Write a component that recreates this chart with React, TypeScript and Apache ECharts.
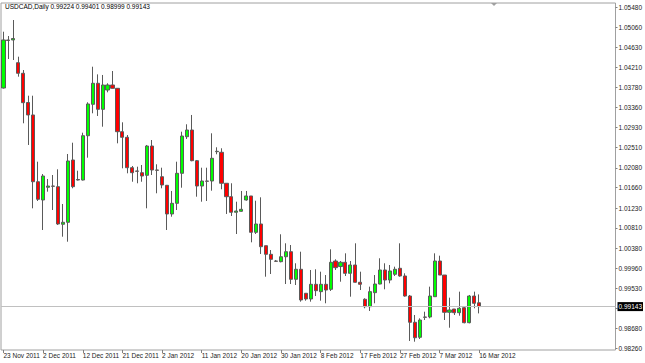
import { useEffect, useRef } from 'react';
import * as echarts from 'echarts';

const symbolName = 'USDCAD,Daily';

const dates = [
  '23 Nov 2011', '24 Nov 2011', '25 Nov 2011', '27 Nov 2011', '28 Nov 2011', '29 Nov 2011', '30 Nov 2011', '1 Dec 2011',
  '2 Dec 2011', '4 Dec 2011', '5 Dec 2011', '6 Dec 2011', '7 Dec 2011', '8 Dec 2011', '9 Dec 2011', '11 Dec 2011',
  '12 Dec 2011', '13 Dec 2011', '14 Dec 2011', '15 Dec 2011', '16 Dec 2011', '18 Dec 2011', '19 Dec 2011', '20 Dec 2011',
  '21 Dec 2011', '22 Dec 2011', '23 Dec 2011', '26 Dec 2011', '27 Dec 2011', '28 Dec 2011', '29 Dec 2011', '30 Dec 2011',
  '2 Jan 2012', '3 Jan 2012', '4 Jan 2012', '5 Jan 2012', '6 Jan 2012', '8 Jan 2012', '9 Jan 2012', '10 Jan 2012',
  '11 Jan 2012', '12 Jan 2012', '13 Jan 2012', '15 Jan 2012', '16 Jan 2012', '17 Jan 2012', '18 Jan 2012', '19 Jan 2012',
  '20 Jan 2012', '22 Jan 2012', '23 Jan 2012', '24 Jan 2012', '25 Jan 2012', '26 Jan 2012', '27 Jan 2012', '29 Jan 2012',
  '30 Jan 2012', '31 Jan 2012', '1 Feb 2012', '2 Feb 2012', '3 Feb 2012', '5 Feb 2012', '6 Feb 2012', '7 Feb 2012',
  '8 Feb 2012', '9 Feb 2012', '10 Feb 2012', '12 Feb 2012', '13 Feb 2012', '14 Feb 2012', '15 Feb 2012', '16 Feb 2012',
  '17 Feb 2012', '19 Feb 2012', '20 Feb 2012', '21 Feb 2012', '22 Feb 2012', '23 Feb 2012', '24 Feb 2012', '26 Feb 2012',
  '27 Feb 2012', '28 Feb 2012', '29 Feb 2012', '1 Mar 2012', '2 Mar 2012', '4 Mar 2012', '5 Mar 2012', '6 Mar 2012',
  '7 Mar 2012', '8 Mar 2012', '9 Mar 2012', '11 Mar 2012', '12 Mar 2012', '13 Mar 2012', '14 Mar 2012', '15 Mar 2012',
  '16 Mar 2012',
];

const opens = [
  1.03771, 1.04788, 1.04788, 1.04307, 1.04083, 1.03464, 1.03200, 1.01787, 1.01400, 1.01669,
  1.01696, 1.01682, 1.00886, 1.00928, 1.02247, 1.01834, 1.01823, 1.02761, 1.03426, 1.03871,
  1.03320, 1.03729, 1.03835, 1.03765, 1.02846, 1.02728, 1.02084, 1.02014, 1.01978, 1.01923,
  1.02543, 1.02035, 1.01893, 1.01711, 1.01104, 1.01330, 1.01965, 1.02740, 1.02882, 1.02232,
  1.01696, 1.01802, 1.01802, 1.02423, 1.02410, 1.01754, 1.01470, 1.01140, 1.01161, 1.01400,
  1.01485, 1.00716, 1.00892, 1.00432, 1.00250, 1.00108, 1.00094, 1.00199, 1.00305, 0.99721,
  0.99933, 0.99425, 0.99304, 0.99615, 0.99459, 0.99615, 0.99509, 1.00108, 0.99991, 1.00081,
  0.99848, 1.00024, 0.99658, 0.99298, 0.99141, 0.99438, 0.99621, 0.99918, 0.99706, 0.99827,
  0.99954, 0.99791, 0.99367, 0.98811, 0.98493, 0.98923, 0.98923, 0.99353, 1.00108, 0.99811,
  0.99022, 0.99092, 0.99014, 0.99120, 0.98802, 0.99367, 0.99224,
];

const closes = [
  1.04788, 1.04777, 1.04819, 1.04083, 1.03460, 1.03200, 1.01787, 1.01415, 1.01908, 1.01696,
  1.01690, 1.00892, 1.00928, 1.02226, 1.01682, 1.01823, 1.02761, 1.03433, 1.03871, 1.03320,
  1.03835, 1.03835, 1.03765, 1.02846, 1.02728, 1.02084, 1.01978, 1.02008, 1.01908, 1.02543,
  1.02035, 1.02029, 1.01718, 1.01104, 1.01330, 1.01965, 1.02755, 1.02882, 1.02232, 1.01696,
  1.01802, 1.01796, 1.02283, 1.02431, 1.01754, 1.01470, 1.01140, 1.01167, 1.01203, 1.01485,
  1.00716, 1.00892, 1.00411, 1.00250, 1.00144, 1.00102, 1.00199, 1.00305, 0.99721, 0.99933,
  0.99283, 0.99304, 0.99615, 0.99480, 0.99615, 0.99494, 1.00081, 0.99967, 1.00081, 0.99848,
  1.00024, 0.99658, 0.99615, 0.99141, 0.99459, 0.99621, 0.99918, 0.99706, 0.99897, 0.99933,
  0.99791, 0.99367, 0.98811, 0.98484, 0.98859, 0.98916, 0.99367, 1.00108, 0.99811, 0.99022,
  0.99071, 0.99014, 0.99107, 0.98802, 0.99367, 0.99213, 0.99143,
];

const lows = [
  1.03760, 1.04385, 1.04364, 1.04011, 1.03024, 1.02565, 1.01224, 1.01379, 1.00765, 1.01576,
  1.01188, 1.00871, 1.00623, 1.00517, 1.01648, 1.01813, 1.01813, 1.02296, 1.03236, 1.03179,
  1.02952, 1.03680, 1.03761, 1.02600, 1.02071, 1.01965, 1.01787, 1.01754, 1.01787, 1.01224,
  1.01929, 1.01542, 1.01648, 1.00765, 1.01046, 1.01188, 1.01660, 1.02692, 1.02220, 1.01470,
  1.01364, 1.01379, 1.01597, 1.02368, 1.01627, 1.01104, 1.01061, 1.00680, 1.01152, 1.01386,
  1.00504, 1.00680, 1.00257, 0.99776, 0.99833, 1.00087, 1.00080, 0.99621, 0.99621, 0.99600,
  0.99247, 0.99268, 0.99247, 0.99367, 0.99268, 0.99213, 0.99474, 0.99918, 0.99670, 0.99791,
  0.99353, 0.99650, 0.99494, 0.99107, 0.99050, 0.99213, 0.99615, 0.99509, 0.99636, 0.99791,
  0.99776, 0.99353, 0.98415, 0.98400, 0.98457, 0.98859, 0.98895, 0.99353, 0.99811, 0.98859,
  0.98696, 0.98965, 0.98950, 0.98789, 0.98789, 0.99107, 0.98999,
];

const highs = [
  1.04963, 1.04872, 1.05211, 1.04434, 1.04152, 1.03608, 1.03608, 1.02211, 1.01950, 1.01845,
  1.01929, 1.02050, 1.01315, 1.02374, 1.02613, 1.02020, 1.02825, 1.03469, 1.04222, 1.04060,
  1.04047, 1.03871, 1.04131, 1.03771, 1.03045, 1.02776, 1.02120, 1.02105, 1.02141, 1.02565,
  1.02670, 1.02156, 1.02084, 1.01718, 1.01591, 1.02211, 1.02846, 1.03003, 1.03200, 1.02247,
  1.02084, 1.02084, 1.02812, 1.02516, 1.02495, 1.01754, 1.01754, 1.01364, 1.01591, 1.01591,
  1.01485, 1.01385, 1.01457, 1.00432, 1.00341, 1.00130, 1.00674, 1.00483, 1.00447, 1.00060,
  1.00305, 0.99431, 0.99918, 0.99933, 0.99882, 0.99811, 1.00356, 1.00144, 1.00108, 1.00271,
  1.00108, 1.00483, 0.99882, 0.99319, 0.99565, 0.99811, 1.00166, 1.00060, 1.00024, 0.99988,
  1.00483, 0.99848, 0.99389, 0.98965, 0.98895, 0.99035, 0.99565, 1.00271, 1.00221, 0.99811,
  0.99332, 0.99092, 0.99459, 0.99141, 0.99389, 0.99459, 0.99401,
];

const yTickValues = [
  1.0548, 1.0506, 1.0463, 1.0421, 1.0378, 1.0336, 1.0293, 1.0251, 1.0208,
  1.0166, 1.0123, 1.0081, 1.0038, 0.9996, 0.9953, 0.9911, 0.9868, 0.9826,
];
// the 0.99110 label is covered by the current-price tag in the original
const yHiddenLabel = 0.9911;

const FONT = '"Liberation Sans", Arial, sans-serif';

export default function App() {
  const ref = useRef<HTMLDivElement>(null);

  useEffect(() => {
    if (!ref.current) return;
    const chart = echarts.init(ref.current, null, { renderer: 'svg' });
    const n = dates.length;
    const emptySlots = 27;
    const cats = [...dates, ...Array(emptySlots).fill('')];
    const data = dates.map((_, i) => [opens[i], closes[i], lows[i], highs[i]]);
    const last = n - 1;
    const fmt = (v: number) => v.toFixed(5);
    const showIdx = (i: number) => i % 8 === 0 && i < n;

    chart.setOption({
      animation: false,
      backgroundColor: '#ffffff',
      textStyle: { fontFamily: FONT },
      title: {
        text: `${symbolName} ${fmt(opens[last])} ${fmt(highs[last])} ${fmt(lows[last])} ${fmt(closes[last])}`,
        left: 5,
        top: 3,
        padding: 0,
        textStyle: { fontSize: 6.5, fontWeight: 'normal', color: '#000', fontFamily: FONT },
      },
      grid: {
        left: 1,
        top: 3,
        width: 618,
        height: 347,
        show: true,
        borderColor: '#a0a0a0',
        borderWidth: 1,
        backgroundColor: '#ffffff',
      },
      xAxis: {
        type: 'category',
        data: cats,
        boundaryGap: true,
        axisLine: { show: false },
        axisTick: {
          show: true,
          interval: (i: number) => showIdx(i),
          alignWithLabel: true,
          length: 3,
          lineStyle: { color: '#808080' },
        },
        axisLabel: {
          interval: (i: number) => showIdx(i),
          align: 'left',
          margin: 2,
          fontSize: 6.5,
          color: '#222',
          fontFamily: FONT,
        },
        splitLine: { show: false },
      },
      yAxis: {
        type: 'value',
        position: 'right',
        min: 0.98224,
        max: 1.05571,
        scale: true,
        axisLine: { show: false },
        splitLine: { show: false },
        axisTick: {
          show: true,
          length: 2,
          customValues: yTickValues,
          lineStyle: { color: '#808080' },
        },
        axisLabel: {
          customValues: yTickValues.filter((v) => v !== yHiddenLabel),
          formatter: (v: number) => fmt(v),
          margin: 3,
          fontSize: 6.5,
          color: '#222',
          fontFamily: FONT,
        },
      },
      graphic: [
        {
          type: 'polygon',
          shape: { points: [[491, 3], [497, 3], [494, 6]] },
          style: { fill: '#a0a0a0' },
        },
      ],
      series: [
        {
          type: 'line',
          data: [],
          silent: true,
          markLine: {
            silent: true,
            precision: 5,
            symbol: ['none', 'none'],
            data: [{ yAxis: closes[last] }],
            lineStyle: { color: '#c0c0c0', width: 1, type: 'solid' },
            label: {
              show: true,
              position: 'end',
              formatter: () => fmt(closes[last]),
              backgroundColor: '#000',
              color: '#fff',
              fontSize: 6.5,
              fontFamily: FONT,
              padding: [1, 1, 1, 1],
              distance: 2,
            },
          },
        },
        {
          type: 'candlestick',
          data,
          barWidth: 3.6,
          itemStyle: {
            color: '#00ff00',
            color0: '#ff0000',
            borderColor: '#5a5a5a',
            borderColor0: '#5a5a5a',
            borderWidth: 1,
          },
        },
      ],
    });

    return () => chart.dispose();
  }, []);

  return (
    <div
      ref={ref}
      style={{ position: 'fixed', left: 0, top: 0, width: 645, height: 363 }}
    />
  );
}
